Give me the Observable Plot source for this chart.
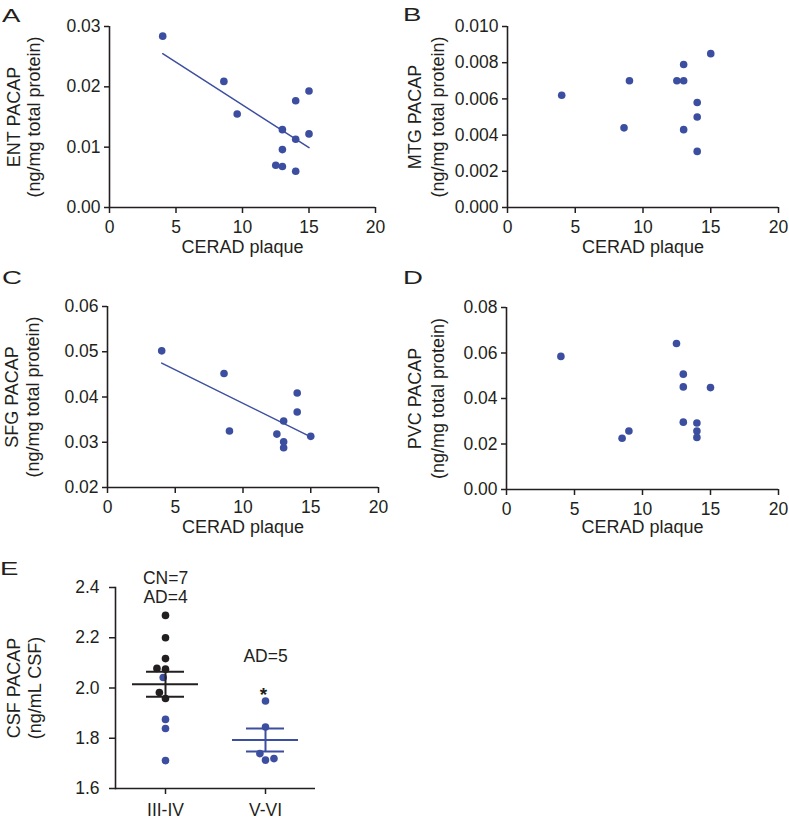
<!DOCTYPE html>
<html><head><meta charset="utf-8">
<script src="https://cdn.jsdelivr.net/npm/d3@7"></script>
<script src="https://cdn.jsdelivr.net/npm/@observablehq/plot@0.6"></script>
<style>
body{margin:0;background:#fff;}
#fig{position:relative;width:789px;height:821px;overflow:hidden;font-family:"Liberation Sans",Arial,sans-serif;color:#231f20;background:#fff;}
.panel{position:absolute;}
.letter{position:absolute;font-size:19px;line-height:1;transform:scaleX(1.45);transform-origin:left top;}
</style></head><body><div id="fig"></div>
<script>
// ---------- data ----------
const ceradTicks = [0, 5, 10, 15, 20];
const xTitle = "CERAD plaque";
const unitTitle = "(ng/mg total protein)";

// A: ENT
const entCerad = [4, 8.6, 9.6, 13, 13, 12.5, 13, 14, 14, 14, 15, 15];
const entPacap = [0.0284, 0.0209, 0.0155, 0.0129, 0.0096, 0.0070, 0.0068, 0.0060, 0.0113, 0.0177, 0.0193, 0.0122];
const entTicks = [0, 0.01, 0.02, 0.03];

// B: MTG
const mtgCerad = [4, 8.6, 9, 12.5, 13, 13, 13, 14, 14, 14, 15];
const mtgPacap = [0.0062, 0.0044, 0.0070, 0.0070, 0.0070, 0.0079, 0.0043, 0.0058, 0.0050, 0.0031, 0.0085];
const mtgTicks = [0, 0.002, 0.004, 0.006, 0.008, 0.010];

// C: SFG
const sfgCerad = [4, 8.6, 9, 12.5, 13, 13, 13, 14, 14, 15];
const sfgPacap = [0.0502, 0.0452, 0.0325, 0.0318, 0.0347, 0.0301, 0.0288, 0.0409, 0.0367, 0.0313];
const sfgTicks = [0.02, 0.03, 0.04, 0.05, 0.06];

// D: PVC
const pvcCerad = [4, 8.5, 9, 12.5, 13, 13, 13, 14, 14, 14, 15];
const pvcPacap = [0.0585, 0.0225, 0.0257, 0.0642, 0.0507, 0.0451, 0.0296, 0.0292, 0.0257, 0.0229, 0.0448];
const pvcTicks = [0, 0.02, 0.04, 0.06, 0.08];

// E: CSF
const stageDomain = ["III-IV", "V-VI"];
const csfStage = ["III-IV","III-IV","III-IV","III-IV","III-IV","III-IV","III-IV","III-IV","III-IV","III-IV","III-IV","V-VI","V-VI","V-VI","V-VI","V-VI"];
const csfDx    = ["CN","CN","CN","CN","CN","CN","CN","AD","AD","AD","AD","AD","AD","AD","AD","AD"];
const csfValue = [2.289, 2.200, 2.117, 2.075, 2.078, 1.958, 1.982, 2.042, 1.875, 1.839, 1.711, 1.948, 1.845, 1.713, 1.739, 1.719];
const csfTicks = [1.6, 1.8, 2.0, 2.2, 2.4];
const dxDomain = ["CN", "AD"];

// ---------- style ----------
const ink = "#231f20";
const blue = "#3c4ea0";
const font = '"Liberation Sans", Arial, sans-serif';
const tickFont = 17.5;
const titleFont = 18;

const fig = document.getElementById("fig");
function place(node, left, top) {
  const d = document.createElement("div");
  d.className = "panel"; d.style.left = left + "px"; d.style.top = top + "px";
  d.appendChild(node); fig.appendChild(d);
}
function letter(t, left, top) {
  const d = document.createElement("div");
  d.className = "letter"; d.textContent = t;
  d.style.left = left + "px"; d.style.top = top + "px";
  fig.appendChild(d);
}

function scatter(cfg) {
  const data = cfg.xs.map((x, i) => ({x, y: cfg.ys[i]}));
  const yDomain = [cfg.yTicks[0], cfg.yTicks[cfg.yTicks.length - 1]];
  const marks = [
    Plot.ruleY([yDomain[0]], {stroke: ink, strokeWidth: 1.6}),
    Plot.ruleX([0], {stroke: ink, strokeWidth: 1.6}),
    Plot.axisX({ticks: ceradTicks, tickSize: 6, tickPadding: 7, fontSize: tickFont, label: null, strokeWidth: 1.5}),
    Plot.axisY({ticks: cfg.yTicks, tickFormat: cfg.yFmt, tickSize: 5, tickPadding: 4, fontSize: tickFont, label: null, strokeWidth: 1.5}),
    Plot.text([xTitle], {frameAnchor: "bottom", dy: cfg.dxt, fontSize: titleFont, lineAnchor: "middle"}),
    Plot.text([cfg.yTitle], {frameAnchor: "left", textAnchor: "middle", rotate: -90, dx: cfg.d1, fontSize: titleFont, lineAnchor: "middle"}),
    Plot.text([unitTitle], {frameAnchor: "left", textAnchor: "middle", rotate: -90, dx: cfg.d2, fontSize: titleFont, lineAnchor: "middle"}),
    Plot.dot(data, {x: "x", y: "y", r: 3.8, fill: blue})
  ];
  if (cfg.fit) marks.push(Plot.linearRegressionY(data, {x: "x", y: "y", stroke: blue, strokeWidth: 1.5, ci: 0}));
  return Plot.plot({
    width: cfg.w, height: 262,
    marginLeft: cfg.ml, marginRight: cfg.mr, marginTop: cfg.mt, marginBottom: cfg.mb,
    x: {domain: [0, 20]},
    y: {domain: yDomain},
    style: {fontFamily: font, color: ink, background: "transparent", overflow: "visible"},
    marks
  });
}

place(scatter({xs: entCerad, ys: entPacap, yTicks: entTicks, yFmt: ".2f", yTitle: "ENT PACAP", fit: true,
  w: 395, ml: 109, mr: 20, mt: 26, mb: 55, d1: -95, d2: -75, dxt: 40}), 0, 0);
place(scatter({xs: mtgCerad, ys: mtgPacap, yTicks: mtgTicks, yFmt: ".3f", yTitle: "MTG PACAP", fit: false,
  w: 394, ml: 112, mr: 11, mt: 26, mb: 55, d1: -92, d2: -69, dxt: 40}), 395, 0);
place(scatter({xs: sfgCerad, ys: sfgPacap, yTicks: sfgTicks, yFmt: ".2f", yTitle: "SFG PACAP", fit: true,
  w: 395, ml: 107, mr: 17, mt: 26, mb: 55, d1: -95, d2: -74, dxt: 40}), 0, 280);
place(scatter({xs: pvcCerad, ys: pvcPacap, yTicks: pvcTicks, yFmt: ".2f", yTitle: "PVC PACAP", fit: false,
  w: 394, ml: 111, mr: 11, mt: 27, mb: 53, d1: -91, d2: -68, dxt: 38}), 395, 280);

// ---------- E ----------
const csf = csfValue.map((v, i) => ({stage: csfStage[i], dx: csfDx[i], v}));
const stats = stageDomain.map(s => {
  const rows = csf.filter(d => d.stage === s);
  const vals = rows.map(d => d.v);
  const mean = d3.mean(vals);
  const sem = d3.deviation(vals) / Math.sqrt(vals.length);
  const counts = dxDomain.filter(k => rows.some(r => r.dx === k)).map(k => `${k}=${rows.filter(r => r.dx === k).length}`);
  return {stage: s, mean, lo: mean - sem, hi: mean + sem, max: d3.max(vals),
    grp: rows.some(r => r.dx === "CN") ? "CN" : "AD", label: counts.join("\n")};
});

const plotE = Plot.plot({
  width: 395, height: 271,
  marginLeft: 115, marginRight: 80, marginTop: 37, marginBottom: 33,
  fx: {domain: stageDomain, padding: 0, label: null},
  y: {domain: [csfTicks[0], csfTicks[csfTicks.length - 1]]},
  color: {domain: dxDomain, range: [ink, blue]},
  style: {fontFamily: font, color: ink, background: "transparent", overflow: "visible"},
  marks: [
    Plot.ruleY([csfTicks[0]], {stroke: ink, strokeWidth: 1.6}),
    Plot.frame({anchor: "left", facetAnchor: "left", stroke: ink, strokeWidth: 1.6}),
    Plot.axisY({ticks: csfTicks, tickFormat: ".1f", tickSize: 6, tickPadding: 10, fontSize: tickFont, label: null, strokeWidth: 1.5}),
    Plot.axisFx({anchor: "bottom", tickSize: 6, tickPadding: 9, fontSize: tickFont, label: null, strokeWidth: 1.5}),
    Plot.text(["CSF PACAP"], {frameAnchor: "left", textAnchor: "middle", rotate: -90, dx: -101, fontSize: titleFont, facetAnchor: "left"}),
    Plot.text(["(ng/mL CSF)"], {frameAnchor: "left", textAnchor: "middle", rotate: -90, dx: -80, fontSize: titleFont, facetAnchor: "left"}),
    Plot.dot(csf, Plot.dodgeX("middle", {fx: "stage", y: "v", fill: "dx", r: 3.8, padding: 0.6})),
    Plot.tickY(stats, {fx: "stage", y: "mean", stroke: "grp", strokeWidth: 2, insetLeft: 17, insetRight: 17}),
    Plot.tickY(stats, {fx: "stage", y: "lo", stroke: "grp", strokeWidth: 2, insetLeft: 31, insetRight: 31}),
    Plot.tickY(stats, {fx: "stage", y: "hi", stroke: "grp", strokeWidth: 2, insetLeft: 31, insetRight: 31}),
    Plot.ruleX(stats, {fx: "stage", x: null, y1: "lo", y2: "hi", stroke: "grp", strokeWidth: 2}),
    Plot.text(stats.filter(d => d.grp === "CN"), {fx: "stage", text: "label", frameAnchor: "top", lineAnchor: "middle", lineHeight: 1.1, fontSize: tickFont}),
    Plot.text(stats.filter(d => d.grp === "AD"), {fx: "stage", text: "label", frameAnchor: "top", dy: 69, lineAnchor: "middle", fontSize: tickFont}),
    Plot.text(stats.filter(d => d.grp === "AD"), {fx: "stage", y: "max", text: () => "*", lineAnchor: "bottom", fontSize: 19, fontWeight: "bold", dx: -2})
  ]
});
place(plotE, 0, 550);

letter("A", 2, 6);
letter("B", 403, 5);
letter("C", 2, 268);
letter("D", 403, 268);
letter("E", 0, 559);
</script>
</body></html>
